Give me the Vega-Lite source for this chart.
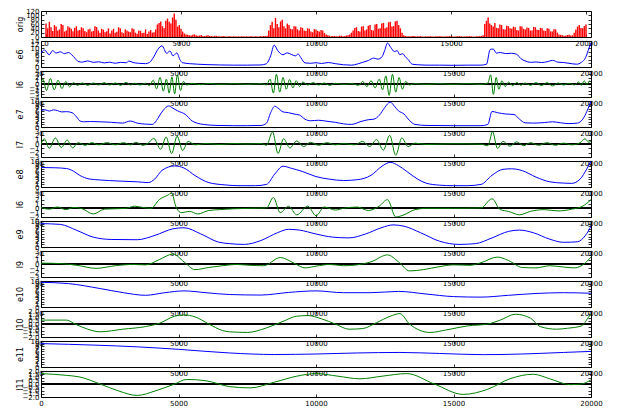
{
"$schema":"https://vega.github.io/schema/vega-lite/v6.json",
"padding":{"left":15,"top":6,"right":0,"bottom":0},
"bounds":"flush",
"spacing":4,
"config":{
 "view":{"stroke":"#000","strokeWidth":1,"fill":null},
 "axis":{"labelFont":"DejaVu Sans","labelFontSize":7,"labelColor":"#000","tickColor":"#000","tickWidth":0.8,"domain":false,"grid":false,"titleFont":"DejaVu Sans","titleFontSize":8,"titleFontWeight":"normal","titleColor":"#000","labelOverlap":false,"labelFlush":false,"labelBound":false}
},
"datasets":{
"orig":[{"x":0,"y":62},{"x":62.5,"y":40},{"x":125,"y":70},{"x":187.5,"y":45},{"x":250,"y":28},{"x":312.5,"y":55},{"x":375,"y":48},{"x":437.5,"y":30},{"x":500,"y":35},{"x":562.5,"y":60},{"x":625,"y":55},{"x":687.5,"y":25},{"x":750,"y":30},{"x":812.5,"y":50},{"x":875,"y":44},{"x":937.5,"y":38},{"x":1000,"y":26},{"x":1062.5,"y":42},{"x":1125,"y":50},{"x":1187.5,"y":30},{"x":1250,"y":32},{"x":1312.5,"y":45},{"x":1375,"y":40},{"x":1437.5,"y":28},{"x":1500,"y":22},{"x":1562.5,"y":35},{"x":1625,"y":38},{"x":1687.5,"y":25},{"x":1750,"y":28},{"x":1812.5,"y":50},{"x":1875,"y":46},{"x":1937.5,"y":30},{"x":2000,"y":20},{"x":2062.5,"y":38},{"x":2125,"y":34},{"x":2187.5,"y":22},{"x":2250,"y":27},{"x":2312.5,"y":40},{"x":2375,"y":16},{"x":2437.5,"y":30},{"x":2500,"y":38},{"x":2562.5,"y":20},{"x":2625,"y":24},{"x":2687.5,"y":45},{"x":2750,"y":40},{"x":2812.5,"y":22},{"x":2875,"y":18},{"x":2937.5,"y":35},{"x":3000,"y":30},{"x":3062.5,"y":25},{"x":3125,"y":22},{"x":3187.5,"y":40},{"x":3250,"y":36},{"x":3312.5,"y":20},{"x":3375,"y":15},{"x":3437.5,"y":30},{"x":3500,"y":28},{"x":3562.5,"y":18},{"x":3625,"y":20},{"x":3687.5,"y":35},{"x":3750,"y":14},{"x":3812.5,"y":25},{"x":3875,"y":32},{"x":3937.5,"y":20},{"x":4000,"y":22},{"x":4062.5,"y":35},{"x":4125,"y":58},{"x":4187.5,"y":65},{"x":4250,"y":72},{"x":4312.5,"y":50},{"x":4375,"y":40},{"x":4437.5,"y":75},{"x":4500,"y":85},{"x":4562.5,"y":70},{"x":4625,"y":62},{"x":4687.5,"y":90},{"x":4750,"y":108},{"x":4812.5,"y":80},{"x":4875,"y":48},{"x":4937.5,"y":55},{"x":5000,"y":38},{"x":5062.5,"y":25},{"x":5125,"y":16},{"x":5187.5,"y":12},{"x":5250,"y":10},{"x":5312.5,"y":8},{"x":5375,"y":7},{"x":5437.5,"y":10},{"x":5500,"y":12},{"x":5562.5,"y":8},{"x":5625,"y":6},{"x":5687.5,"y":7},{"x":5750,"y":9},{"x":5812.5,"y":5},{"x":5875,"y":4},{"x":5937.5,"y":6},{"x":6000,"y":8},{"x":6062.5,"y":5},{"x":6125,"y":4},{"x":6187.5,"y":3},{"x":6250,"y":6},{"x":6312.5,"y":5},{"x":6375,"y":4},{"x":6437.5,"y":3},{"x":6500,"y":3},{"x":6562.5,"y":5},{"x":6625,"y":3},{"x":6687.5,"y":2},{"x":6750,"y":4},{"x":6812.5,"y":3},{"x":6875,"y":2},{"x":6937.5,"y":3},{"x":7000,"y":4},{"x":7062.5,"y":2},{"x":7125,"y":3},{"x":7187.5,"y":2},{"x":7250,"y":4},{"x":7312.5,"y":3},{"x":7375,"y":2},{"x":7437.5,"y":3},{"x":7500,"y":2},{"x":7562.5,"y":3},{"x":7625,"y":4},{"x":7687.5,"y":2},{"x":7750,"y":3},{"x":7812.5,"y":3},{"x":7875,"y":2},{"x":7937.5,"y":4},{"x":8000,"y":3},{"x":8062.5,"y":5},{"x":8125,"y":4},{"x":8187.5,"y":6},{"x":8250,"y":30},{"x":8312.5,"y":55},{"x":8375,"y":70},{"x":8437.5,"y":40},{"x":8500,"y":88},{"x":8562.5,"y":60},{"x":8625,"y":45},{"x":8687.5,"y":72},{"x":8750,"y":80},{"x":8812.5,"y":50},{"x":8875,"y":40},{"x":8937.5,"y":62},{"x":9000,"y":55},{"x":9062.5,"y":38},{"x":9125,"y":35},{"x":9187.5,"y":50},{"x":9250,"y":48},{"x":9312.5,"y":36},{"x":9375,"y":30},{"x":9437.5,"y":45},{"x":9500,"y":42},{"x":9562.5,"y":30},{"x":9625,"y":28},{"x":9687.5,"y":40},{"x":9750,"y":38},{"x":9812.5,"y":25},{"x":9875,"y":22},{"x":9937.5,"y":36},{"x":10000,"y":35},{"x":10062.5,"y":28},{"x":10125,"y":25},{"x":10187.5,"y":32},{"x":10250,"y":30},{"x":10312.5,"y":18},{"x":10375,"y":12},{"x":10437.5,"y":8},{"x":10500,"y":6},{"x":10562.5,"y":4},{"x":10625,"y":5},{"x":10687.5,"y":5},{"x":10750,"y":3},{"x":10812.5,"y":3},{"x":10875,"y":6},{"x":10937.5,"y":6},{"x":11000,"y":4},{"x":11062.5,"y":4},{"x":11125,"y":7},{"x":11187.5,"y":8},{"x":11250,"y":12},{"x":11312.5,"y":20},{"x":11375,"y":30},{"x":11437.5,"y":42},{"x":11500,"y":45},{"x":11562.5,"y":28},{"x":11625,"y":25},{"x":11687.5,"y":48},{"x":11750,"y":50},{"x":11812.5,"y":30},{"x":11875,"y":35},{"x":11937.5,"y":52},{"x":12000,"y":55},{"x":12062.5,"y":32},{"x":12125,"y":30},{"x":12187.5,"y":58},{"x":12250,"y":60},{"x":12312.5,"y":38},{"x":12375,"y":40},{"x":12437.5,"y":62},{"x":12500,"y":65},{"x":12562.5,"y":40},{"x":12625,"y":45},{"x":12687.5,"y":68},{"x":12750,"y":70},{"x":12812.5,"y":48},{"x":12875,"y":50},{"x":12937.5,"y":72},{"x":13000,"y":75},{"x":13062.5,"y":55},{"x":13125,"y":40},{"x":13187.5,"y":20},{"x":13250,"y":8},{"x":13312.5,"y":5},{"x":13375,"y":4},{"x":13437.5,"y":3},{"x":13500,"y":3},{"x":13562.5,"y":5},{"x":13625,"y":5},{"x":13687.5,"y":3},{"x":13750,"y":3},{"x":13812.5,"y":4},{"x":13875,"y":4},{"x":13937.5,"y":2},{"x":14000,"y":2},{"x":14062.5,"y":3},{"x":14125,"y":3},{"x":14187.5,"y":4},{"x":14250,"y":4},{"x":14312.5,"y":2},{"x":14375,"y":2},{"x":14437.5,"y":3},{"x":14500,"y":3},{"x":14562.5,"y":4},{"x":14625,"y":4},{"x":14687.5,"y":2},{"x":14750,"y":2},{"x":14812.5,"y":3},{"x":14875,"y":3},{"x":14937.5,"y":4},{"x":15000,"y":4},{"x":15062.5,"y":2},{"x":15125,"y":2},{"x":15187.5,"y":3},{"x":15250,"y":3},{"x":15312.5,"y":4},{"x":15375,"y":4},{"x":15437.5,"y":2},{"x":15500,"y":2},{"x":15562.5,"y":3},{"x":15625,"y":3},{"x":15687.5,"y":4},{"x":15750,"y":4},{"x":15812.5,"y":2},{"x":15875,"y":2},{"x":15937.5,"y":3},{"x":16000,"y":3},{"x":16062.5,"y":4},{"x":16125,"y":5},{"x":16187.5,"y":8},{"x":16250,"y":60},{"x":16312.5,"y":75},{"x":16375,"y":90},{"x":16437.5,"y":62},{"x":16500,"y":55},{"x":16562.5,"y":48},{"x":16625,"y":65},{"x":16687.5,"y":42},{"x":16750,"y":40},{"x":16812.5,"y":58},{"x":16875,"y":55},{"x":16937.5,"y":36},{"x":17000,"y":35},{"x":17062.5,"y":52},{"x":17125,"y":50},{"x":17187.5,"y":40},{"x":17250,"y":38},{"x":17312.5,"y":48},{"x":17375,"y":45},{"x":17437.5,"y":32},{"x":17500,"y":30},{"x":17562.5,"y":50},{"x":17625,"y":48},{"x":17687.5,"y":38},{"x":17750,"y":35},{"x":17812.5,"y":44},{"x":17875,"y":42},{"x":17937.5,"y":30},{"x":18000,"y":30},{"x":18062.5,"y":46},{"x":18125,"y":45},{"x":18187.5,"y":34},{"x":18250,"y":32},{"x":18312.5,"y":42},{"x":18375,"y":40},{"x":18437.5,"y":30},{"x":18500,"y":28},{"x":18562.5,"y":40},{"x":18625,"y":38},{"x":18687.5,"y":26},{"x":18750,"y":25},{"x":18812.5,"y":36},{"x":18875,"y":35},{"x":18937.5,"y":20},{"x":19000,"y":12},{"x":19062.5,"y":10},{"x":19125,"y":8},{"x":19187.5,"y":6},{"x":19250,"y":6},{"x":19312.5,"y":9},{"x":19375,"y":10},{"x":19437.5,"y":7},{"x":19500,"y":8},{"x":19562.5,"y":20},{"x":19625,"y":35},{"x":19687.5,"y":48},{"x":19750,"y":55},{"x":19812.5,"y":42},{"x":19875,"y":40},{"x":19937.5,"y":50},{"x":20000,"y":58}],
"e6":[{"x":0,"y":7.4},{"x":120,"y":9.2},{"x":300,"y":6.6},{"x":420,"y":8.8},{"x":550,"y":7.5},{"x":700,"y":8.2},{"x":850,"y":7.2},{"x":1000,"y":7.8},{"x":1100,"y":6.8},{"x":1250,"y":4.5},{"x":1350,"y":3.0},{"x":1500,"y":2.6},{"x":1700,"y":3.3},{"x":1900,"y":2.5},{"x":2100,"y":2.8},{"x":2300,"y":2.2},{"x":2500,"y":2.6},{"x":2700,"y":2.0},{"x":2900,"y":2.5},{"x":3100,"y":2.3},{"x":3200,"y":3.2},{"x":3350,"y":2.4},{"x":3550,"y":2.0},{"x":3800,"y":1.8},{"x":3950,"y":2.5},{"x":4100,"y":5.5},{"x":4250,"y":9.5},{"x":4400,"y":11.4},{"x":4570,"y":7.4},{"x":4690,"y":8.6},{"x":4800,"y":6.0},{"x":4940,"y":7.6},{"x":5050,"y":4.0},{"x":5150,"y":2.3},{"x":5400,"y":1.8},{"x":5700,"y":1.5},{"x":6000,"y":1.3},{"x":6500,"y":1.1},{"x":7000,"y":1.0},{"x":7500,"y":1.0},{"x":8000,"y":1.1},{"x":8200,"y":1.8},{"x":8350,"y":6},{"x":8480,"y":11.8},{"x":8600,"y":9},{"x":8800,"y":6.6},{"x":8950,"y":7.6},{"x":9100,"y":6.8},{"x":9250,"y":6.0},{"x":9350,"y":7.0},{"x":9450,"y":5},{"x":9600,"y":2.2},{"x":9800,"y":2.0},{"x":10000,"y":2.3},{"x":10200,"y":1.9},{"x":10450,"y":2.4},{"x":10700,"y":1.8},{"x":11000,"y":1.2},{"x":11300,"y":1.0},{"x":11500,"y":1.6},{"x":11700,"y":2.5},{"x":11900,"y":3.5},{"x":12100,"y":4.8},{"x":12250,"y":4.2},{"x":12400,"y":5.5},{"x":12500,"y":9},{"x":12600,"y":12.9},{"x":12720,"y":10.5},{"x":12850,"y":8.3},{"x":12950,"y":8.8},{"x":13050,"y":6.6},{"x":13150,"y":7.2},{"x":13250,"y":5.5},{"x":13350,"y":4},{"x":13500,"y":1.5},{"x":13700,"y":1.2},{"x":14000,"y":1.0},{"x":14500,"y":1.0},{"x":15000,"y":0.9},{"x":15500,"y":1.0},{"x":16000,"y":1.0},{"x":16200,"y":1.5},{"x":16330,"y":9.3},{"x":16440,"y":9.7},{"x":16560,"y":7.5},{"x":16700,"y":7.8},{"x":16900,"y":7.2},{"x":17100,"y":7.4},{"x":17300,"y":6.8},{"x":17450,"y":4.5},{"x":17600,"y":3.3},{"x":17800,"y":2.5},{"x":18000,"y":2.7},{"x":18200,"y":2.4},{"x":18400,"y":2.8},{"x":18600,"y":3.6},{"x":18800,"y":2.6},{"x":19000,"y":2.4},{"x":19200,"y":2.0},{"x":19480,"y":1.5},{"x":19650,"y":2.5},{"x":19800,"y":5},{"x":19900,"y":9},{"x":20000,"y":13}],
"l6":[{"x":0,"y":0.2},{"x":70,"y":1.5},{"x":200,"y":-2.0},{"x":340,"y":1.7},{"x":480,"y":-1.8},{"x":620,"y":1.2},{"x":760,"y":-1.4},{"x":900,"y":0.8},{"x":1040,"y":-0.9},{"x":1180,"y":0.4},{"x":1320,"y":-0.4},{"x":1500,"y":0.3},{"x":1700,"y":-0.4},{"x":1900,"y":0.3},{"x":2100,"y":-0.3},{"x":2300,"y":0.4},{"x":2500,"y":-0.3},{"x":2700,"y":0.3},{"x":2900,"y":-0.4},{"x":3100,"y":0.5},{"x":3250,"y":-0.3},{"x":3400,"y":0.2},{"x":3600,"y":-0.3},{"x":3800,"y":0.2},{"x":3950,"y":-0.5},{"x":4080,"y":1.2},{"x":4200,"y":-1.5},{"x":4330,"y":2.0},{"x":4450,"y":-2.2},{"x":4560,"y":1.5},{"x":4660,"y":-2.8},{"x":4760,"y":2.2},{"x":4860,"y":-3.0},{"x":4960,"y":2.8},{"x":5070,"y":-2.0},{"x":5180,"y":0.8},{"x":5300,"y":-0.3},{"x":5500,"y":0.2},{"x":5800,"y":-0.2},{"x":6100,"y":0.15},{"x":6500,"y":-0.1},{"x":7000,"y":0.1},{"x":7500,"y":-0.1},{"x":8000,"y":0.1},{"x":8200,"y":-0.3},{"x":8330,"y":1.5},{"x":8450,"y":-2.8},{"x":8560,"y":3.0},{"x":8680,"y":-2.5},{"x":8800,"y":2.0},{"x":8920,"y":-1.6},{"x":9040,"y":1.4},{"x":9160,"y":-1.2},{"x":9280,"y":1.0},{"x":9400,"y":-0.8},{"x":9520,"y":0.6},{"x":9700,"y":-0.3},{"x":9900,"y":0.4},{"x":10100,"y":-0.3},{"x":10300,"y":0.3},{"x":10500,"y":-0.4},{"x":10700,"y":0.2},{"x":11000,"y":-0.1},{"x":11300,"y":0.1},{"x":11550,"y":-0.4},{"x":11700,"y":0.8},{"x":11850,"y":-0.8},{"x":12000,"y":1.0},{"x":12150,"y":-1.2},{"x":12300,"y":1.5},{"x":12420,"y":-1.8},{"x":12540,"y":2.5},{"x":12660,"y":-3.5},{"x":12780,"y":3.0},{"x":12900,"y":-2.5},{"x":13020,"y":2.0},{"x":13140,"y":-1.6},{"x":13260,"y":0.8},{"x":13400,"y":-0.3},{"x":13600,"y":0.1},{"x":14000,"y":-0.1},{"x":14500,"y":0.1},{"x":15000,"y":-0.1},{"x":15500,"y":0.1},{"x":16000,"y":-0.1},{"x":16250,"y":0.3},{"x":16350,"y":2.8},{"x":16450,"y":-3.2},{"x":16550,"y":2.0},{"x":16650,"y":-1.6},{"x":16760,"y":1.0},{"x":16880,"y":-0.8},{"x":17000,"y":0.6},{"x":17150,"y":-0.5},{"x":17300,"y":0.5},{"x":17450,"y":-0.4},{"x":17600,"y":0.3},{"x":17800,"y":-0.4},{"x":18000,"y":0.4},{"x":18200,"y":-0.5},{"x":18400,"y":0.4},{"x":18600,"y":-0.6},{"x":18800,"y":0.3},{"x":19000,"y":-0.3},{"x":19200,"y":0.2},{"x":19400,"y":-0.3},{"x":19550,"y":0.6},{"x":19650,"y":-0.4},{"x":19750,"y":1.0},{"x":19850,"y":-0.2},{"x":19950,"y":0.9},{"x":20000,"y":0.5}],
"e7":[{"x":0,"y":6.4},{"x":150,"y":6.6},{"x":300,"y":6.1},{"x":450,"y":6.6},{"x":600,"y":6.3},{"x":750,"y":5.8},{"x":930,"y":5.9},{"x":1130,"y":5.5},{"x":1300,"y":3.8},{"x":1420,"y":2.3},{"x":1550,"y":2.0},{"x":1800,"y":2.1},{"x":2150,"y":2.0},{"x":2570,"y":1.8},{"x":2970,"y":1.5},{"x":3240,"y":2.3},{"x":3500,"y":1.5},{"x":3800,"y":1.1},{"x":4050,"y":1.0},{"x":4200,"y":2.5},{"x":4300,"y":4.2},{"x":4450,"y":6.5},{"x":4640,"y":8.1},{"x":4800,"y":7.2},{"x":4970,"y":6.2},{"x":5240,"y":4.9},{"x":5500,"y":2.3},{"x":5900,"y":1.0},{"x":6400,"y":0.6},{"x":7000,"y":0.5},{"x":7500,"y":0.5},{"x":8000,"y":0.6},{"x":8200,"y":1.5},{"x":8350,"y":5.5},{"x":8500,"y":8.0},{"x":8650,"y":7.0},{"x":8800,"y":5.8},{"x":9000,"y":5.5},{"x":9200,"y":5.0},{"x":9400,"y":4.6},{"x":9600,"y":3.0},{"x":9800,"y":2.4},{"x":10100,"y":2.6},{"x":10400,"y":2.2},{"x":10700,"y":1.8},{"x":11000,"y":1.2},{"x":11300,"y":1.0},{"x":11600,"y":2.0},{"x":11900,"y":2.8},{"x":12100,"y":3.0},{"x":12300,"y":4.5},{"x":12500,"y":7.5},{"x":12700,"y":9.6},{"x":12850,"y":8.0},{"x":13000,"y":6.2},{"x":13200,"y":5.0},{"x":13400,"y":2.5},{"x":13600,"y":1.0},{"x":14000,"y":0.6},{"x":15000,"y":0.5},{"x":16000,"y":0.5},{"x":16250,"y":1.0},{"x":16400,"y":6.0},{"x":16600,"y":5.5},{"x":16900,"y":5.0},{"x":17200,"y":4.8},{"x":17400,"y":3.0},{"x":17600,"y":1.6},{"x":17900,"y":1.5},{"x":18300,"y":1.7},{"x":18600,"y":2.0},{"x":18900,"y":1.6},{"x":19200,"y":1.3},{"x":19500,"y":1.5},{"x":19700,"y":3.0},{"x":19850,"y":6.0},{"x":20000,"y":10}],
"l7":[{"x":0,"y":0},{"x":120,"y":1.2},{"x":300,"y":-1.0},{"x":520,"y":1.4},{"x":740,"y":-0.8},{"x":950,"y":0.9},{"x":1150,"y":-0.9},{"x":1350,"y":0.3},{"x":1600,"y":-0.3},{"x":1850,"y":0.3},{"x":2100,"y":-0.2},{"x":2400,"y":0.3},{"x":2700,"y":-0.2},{"x":3000,"y":0.3},{"x":3250,"y":-0.2},{"x":3450,"y":0.4},{"x":3700,"y":-0.3},{"x":3900,"y":0.2},{"x":4100,"y":1.3},{"x":4350,"y":-1.2},{"x":4550,"y":1.6},{"x":4750,"y":-2.2},{"x":4950,"y":1.8},{"x":5150,"y":-1.5},{"x":5350,"y":0.6},{"x":5600,"y":-0.2},{"x":6000,"y":0.1},{"x":6500,"y":-0.1},{"x":7000,"y":0.1},{"x":7500,"y":0},{"x":8000,"y":0.1},{"x":8200,"y":-0.3},{"x":8420,"y":2.8},{"x":8620,"y":-2.2},{"x":8820,"y":1.2},{"x":9050,"y":-0.9},{"x":9300,"y":0.7},{"x":9550,"y":-0.6},{"x":9800,"y":0.4},{"x":10100,"y":-0.3},{"x":10400,"y":0.3},{"x":10700,"y":-0.2},{"x":11000,"y":0.1},{"x":11400,"y":-0.2},{"x":11700,"y":0.6},{"x":11950,"y":-0.6},{"x":12200,"y":1.0},{"x":12450,"y":-1.4},{"x":12680,"y":2.0},{"x":12900,"y":-2.6},{"x":13120,"y":1.4},{"x":13350,"y":-0.6},{"x":13600,"y":0.2},{"x":14000,"y":-0.1},{"x":15000,"y":0.05},{"x":16000,"y":-0.05},{"x":16250,"y":-0.4},{"x":16420,"y":2.8},{"x":16600,"y":-1.0},{"x":16800,"y":0.6},{"x":17050,"y":-0.5},{"x":17300,"y":0.5},{"x":17550,"y":-0.4},{"x":17800,"y":0.3},{"x":18100,"y":-0.3},{"x":18400,"y":0.3},{"x":18700,"y":-0.3},{"x":19000,"y":0.2},{"x":19300,"y":-0.2},{"x":19600,"y":0.3},{"x":19780,"y":1.2},{"x":19920,"y":0.4},{"x":20000,"y":0.6}],
"e8":[{"x":0,"y":7.5},{"x":500,"y":7.4},{"x":930,"y":7.1},{"x":1180,"y":6.1},{"x":1420,"y":4.4},{"x":1750,"y":3.1},{"x":2150,"y":2.7},{"x":2820,"y":2.3},{"x":3500,"y":2.0},{"x":3900,"y":1.7},{"x":4140,"y":3.1},{"x":4400,"y":6.4},{"x":4860,"y":8.1},{"x":5200,"y":7.3},{"x":5600,"y":4.4},{"x":6100,"y":1.7},{"x":6700,"y":0.8},{"x":7200,"y":0.5},{"x":7800,"y":0.5},{"x":8200,"y":1.0},{"x":8500,"y":5.0},{"x":8800,"y":8.0},{"x":9100,"y":7.2},{"x":9500,"y":6.0},{"x":10000,"y":4.0},{"x":10500,"y":3.0},{"x":11000,"y":2.5},{"x":11500,"y":2.8},{"x":12000,"y":4.5},{"x":12400,"y":8.0},{"x":12700,"y":9.5},{"x":13000,"y":8.2},{"x":13300,"y":6.0},{"x":13700,"y":3.0},{"x":14000,"y":1.5},{"x":14500,"y":0.7},{"x":15000,"y":0.5},{"x":15500,"y":0.5},{"x":16000,"y":1.0},{"x":16400,"y":4.5},{"x":16800,"y":6.8},{"x":17100,"y":7.0},{"x":17500,"y":6.3},{"x":18000,"y":3.8},{"x":18500,"y":2.0},{"x":19000,"y":1.5},{"x":19300,"y":1.4},{"x":19600,"y":3.0},{"x":19850,"y":7.0},{"x":20000,"y":10}],
"l8":[{"x":0,"y":0.2},{"x":300,"y":-0.2},{"x":600,"y":0.3},{"x":900,"y":-0.3},{"x":1200,"y":0.2},{"x":1500,"y":-0.1},{"x":1900,"y":-1.3},{"x":2300,"y":-0.2},{"x":2700,"y":-0.1},{"x":3100,"y":0},{"x":3400,"y":0.5},{"x":3700,"y":0.2},{"x":4000,"y":0},{"x":4300,"y":2.0},{"x":4600,"y":3.0},{"x":4750,"y":3.5},{"x":4900,"y":0.5},{"x":5100,"y":-1.0},{"x":5400,"y":-0.7},{"x":5700,"y":-1.3},{"x":6100,"y":-0.5},{"x":6500,"y":-0.3},{"x":7000,"y":-0.1},{"x":7600,"y":0},{"x":8200,"y":0.1},{"x":8450,"y":2.5},{"x":8700,"y":-1.0},{"x":9000,"y":0.5},{"x":9300,"y":-1.5},{"x":9700,"y":0.5},{"x":10000,"y":-1.7},{"x":10300,"y":0.3},{"x":10700,"y":-0.4},{"x":11000,"y":0},{"x":11500,"y":0.3},{"x":11900,"y":-0.5},{"x":12300,"y":0.5},{"x":12600,"y":2.0},{"x":12900,"y":-2.0},{"x":13200,"y":-1.5},{"x":13600,"y":-0.3},{"x":14000,"y":0},{"x":15000,"y":0},{"x":16000,"y":0.1},{"x":16400,"y":2.2},{"x":16700,"y":-0.3},{"x":17000,"y":-0.7},{"x":17400,"y":-1.5},{"x":17800,"y":-0.7},{"x":18300,"y":-0.3},{"x":18800,"y":-0.6},{"x":19300,"y":-0.2},{"x":19700,"y":0.5},{"x":20000,"y":2.0}],
"e9":[{"x":0,"y":9},{"x":700,"y":8.7},{"x":1300,"y":6.4},{"x":1900,"y":3.8},{"x":2550,"y":2.9},{"x":3500,"y":2.8},{"x":4150,"y":4.5},{"x":4800,"y":7},{"x":5200,"y":7.4},{"x":5800,"y":5.1},{"x":6450,"y":1.9},{"x":6850,"y":1.3},{"x":7400,"y":1.0},{"x":8000,"y":2.5},{"x":8600,"y":5.5},{"x":9000,"y":6.8},{"x":9400,"y":6.5},{"x":10000,"y":5.0},{"x":10600,"y":3.8},{"x":11200,"y":3.5},{"x":11800,"y":5},{"x":12400,"y":7.5},{"x":12800,"y":8.5},{"x":13200,"y":8.0},{"x":13800,"y":5.5},{"x":14500,"y":2.2},{"x":15200,"y":1.0},{"x":15800,"y":1.3},{"x":16400,"y":3.5},{"x":17000,"y":6.0},{"x":17400,"y":6.5},{"x":17900,"y":5.5},{"x":18500,"y":3.0},{"x":19000,"y":1.8},{"x":19500,"y":2.0},{"x":19800,"y":4.5},{"x":20000,"y":8}],
"l9":[{"x":0,"y":0.2},{"x":700,"y":0.1},{"x":1300,"y":-0.3},{"x":2000,"y":-1.0},{"x":2700,"y":-0.4},{"x":3300,"y":-0.1},{"x":3800,"y":-0.2},{"x":4300,"y":1.0},{"x":4800,"y":2.3},{"x":5200,"y":0.5},{"x":5600,"y":-1.3},{"x":6100,"y":-0.8},{"x":6600,"y":-0.4},{"x":7100,"y":-0.1},{"x":7600,"y":-0.3},{"x":8100,"y":-0.4},{"x":8700,"y":1.5},{"x":9200,"y":0.2},{"x":9600,"y":-0.9},{"x":10000,"y":-0.5},{"x":10500,"y":-0.1},{"x":11000,"y":-0.4},{"x":11500,"y":-0.2},{"x":12000,"y":0.5},{"x":12600,"y":2.1},{"x":13000,"y":0.5},{"x":13400,"y":-1.6},{"x":13900,"y":-1.3},{"x":14500,"y":-0.6},{"x":15000,"y":-0.2},{"x":15600,"y":-0.3},{"x":16000,"y":0.3},{"x":16600,"y":1.6},{"x":17000,"y":0.8},{"x":17500,"y":-0.8},{"x":18000,"y":-0.9},{"x":18500,"y":-0.4},{"x":19000,"y":-0.7},{"x":19400,"y":-0.9},{"x":19800,"y":0.3},{"x":20000,"y":1.6}],
"e10":[{"x":0,"y":9.5},{"x":1000,"y":9.0},{"x":2150,"y":7.1},{"x":3000,"y":5.5},{"x":3800,"y":4.5},{"x":4500,"y":5.5},{"x":5200,"y":6.2},{"x":6000,"y":5.5},{"x":6850,"y":4.8},{"x":8000,"y":4.6},{"x":9000,"y":5.6},{"x":10000,"y":6.2},{"x":11000,"y":5.5},{"x":12000,"y":5.5},{"x":13000,"y":6.0},{"x":14000,"y":5.0},{"x":15000,"y":4.0},{"x":16000,"y":3.8},{"x":17000,"y":4.5},{"x":18000,"y":5.2},{"x":19000,"y":5.5},{"x":20000,"y":5.3}],
"l10":[{"x":0,"y":0.6},{"x":930,"y":0.6},{"x":1240,"y":0},{"x":1700,"y":-0.8},{"x":2150,"y":-1.2},{"x":2970,"y":-0.8},{"x":3800,"y":-0.4},{"x":4300,"y":0.1},{"x":4860,"y":1.2},{"x":5200,"y":1.4},{"x":5600,"y":1.1},{"x":6100,"y":0},{"x":6600,"y":-1.0},{"x":6850,"y":-1.2},{"x":7500,"y":-1.3},{"x":8200,"y":-0.6},{"x":8800,"y":0.4},{"x":9300,"y":1.2},{"x":9700,"y":1.3},{"x":10200,"y":0.8},{"x":10700,"y":0},{"x":11200,"y":-0.8},{"x":11700,"y":-0.7},{"x":12200,"y":0.2},{"x":12700,"y":1.2},{"x":13050,"y":1.6},{"x":13400,"y":0},{"x":14150,"y":-1.3},{"x":14750,"y":-0.9},{"x":15500,"y":-0.3},{"x":16250,"y":0},{"x":16700,"y":0.6},{"x":17250,"y":1.5},{"x":17800,"y":0.9},{"x":18150,"y":-0.4},{"x":18750,"y":-0.8},{"x":19150,"y":-0.65},{"x":19650,"y":-0.3},{"x":19900,"y":1.0},{"x":20000,"y":1.6}],
"e11":[{"x":0,"y":9},{"x":2000,"y":8.4},{"x":3500,"y":7.75},{"x":5000,"y":6.8},{"x":6850,"y":5.4},{"x":8500,"y":4.8},{"x":10000,"y":5.0},{"x":11500,"y":5.4},{"x":13050,"y":5.6},{"x":14500,"y":5.2},{"x":16100,"y":4.75},{"x":17500,"y":5.0},{"x":19000,"y":5.6},{"x":20000,"y":6.0}],
"l11":[{"x":0,"y":1.6},{"x":930,"y":1.33},{"x":1420,"y":1.07},{"x":2150,"y":0},{"x":2820,"y":-1.07},{"x":3500,"y":-1.76},{"x":4150,"y":-1.07},{"x":4860,"y":0},{"x":5300,"y":0.7},{"x":6000,"y":0.5},{"x":6850,"y":-0.4},{"x":7600,"y":-0.6},{"x":8500,"y":0.3},{"x":9300,"y":1.2},{"x":10000,"y":1.6},{"x":10800,"y":1.2},{"x":11600,"y":0.8},{"x":12400,"y":1.2},{"x":13300,"y":1.6},{"x":14300,"y":0},{"x":15350,"y":-1.6},{"x":16250,"y":-0.8},{"x":17050,"y":0.8},{"x":17900,"y":1.5},{"x":18500,"y":0.8},{"x":19250,"y":-0.1},{"x":19650,"y":0},{"x":20000,"y":0.64}]
},
"vconcat":[
{"width":550,"height":26,"data":{"name":"orig"},"layer":[
 {"mark":{"type":"bar","color":"#ff0000","size":1.4,"clip":true},"encoding":{
  "x":{"field":"x","type":"quantitative","scale":{"domain":[0,20000],"nice":false},"axis":{"orient":"bottom","values":[0,5000,10000,15000,20000],"format":"d","title":null,"tickSize":-3,"labelPadding":5}},
  "y":{"field":"y","type":"quantitative","scale":{"domain":[0,120],"nice":false},"axis":{"orient":"left","values":[0,20,40,60,80,100,120],"title":"orig","titleX":-17,"tickSize":-3,"labelPadding":5}}}},
 {"mark":{"type":"line","opacity":0},"encoding":{
  "x":{"field":"x","type":"quantitative","axis":{"orient":"top","values":[0,5000,10000,15000,20000],"labels":false,"title":null,"tickSize":-3}},
  "y":{"field":"y","type":"quantitative","axis":{"orient":"right","values":[0,20,40,60,80,100,120],"labels":false,"title":null,"tickSize":-3}}}}
]},
{"width":550,"height":26,"data":{"name":"e6"},"layer":[
 {"mark":{"type":"line","color":"#0000ff","strokeWidth":1,"interpolate":"monotone","clip":true},"encoding":{
  "x":{"field":"x","type":"quantitative","scale":{"domain":[0,20000],"nice":false},"axis":{"orient":"bottom","values":[0,5000,10000,15000,20000],"format":"d","title":null,"tickSize":-3,"labelPadding":5}},
  "y":{"field":"y","type":"quantitative","scale":{"domain":[0,14],"nice":false},"axis":{"orient":"left","values":[0,2,4,6,8,10,12,14],"title":"e6","titleX":-17,"tickSize":-3,"labelPadding":5}}}},
 {"mark":{"type":"line","opacity":0},"encoding":{
  "x":{"field":"x","type":"quantitative","axis":{"orient":"top","values":[0,5000,10000,15000,20000],"labels":false,"title":null,"tickSize":-3}},
  "y":{"field":"y","type":"quantitative","axis":{"orient":"right","values":[0,2,4,6,8,10,12,14],"labels":false,"title":null,"tickSize":-3}}}}
]},
{"width":550,"height":26,"data":{"name":"l6"},"layer":[
 {"mark":{"type":"rule","color":"#000","strokeWidth":0.8},"encoding":{"y":{"datum":0,"type":"quantitative","axis":null}}},
 {"mark":{"type":"line","color":"#008000","strokeWidth":1,"interpolate":"monotone","clip":true},"encoding":{
  "x":{"field":"x","type":"quantitative","scale":{"domain":[0,20000],"nice":false},"axis":{"orient":"bottom","values":[0,5000,10000,15000,20000],"format":"d","title":null,"tickSize":-3,"labelPadding":5}},
  "y":{"field":"y","type":"quantitative","scale":{"domain":[-4,4],"nice":false},"axis":{"orient":"left","values":[-4,-3,-2,-1,0,1,2,3,4],"title":"l6","titleX":-17,"tickSize":-3,"labelPadding":5}}}},
 {"mark":{"type":"line","opacity":0},"encoding":{
  "x":{"field":"x","type":"quantitative","axis":{"orient":"top","values":[0,5000,10000,15000,20000],"labels":false,"title":null,"tickSize":-3}},
  "y":{"field":"y","type":"quantitative","axis":{"orient":"right","values":[-4,-3,-2,-1,0,1,2,3,4],"labels":false,"title":null,"tickSize":-3}}}}
]},
{"width":550,"height":26,"data":{"name":"e7"},"layer":[
 {"mark":{"type":"line","color":"#0000ff","strokeWidth":1,"interpolate":"monotone","clip":true},"encoding":{
  "x":{"field":"x","type":"quantitative","scale":{"domain":[0,20000],"nice":false},"axis":{"orient":"bottom","values":[0,5000,10000,15000,20000],"format":"d","title":null,"tickSize":-3,"labelPadding":5}},
  "y":{"field":"y","type":"quantitative","scale":{"domain":[0,10],"nice":false},"axis":{"orient":"left","values":[0,1,2,3,4,5,6,7,8,9,10],"title":"e7","titleX":-17,"tickSize":-3,"labelPadding":5}}}},
 {"mark":{"type":"line","opacity":0},"encoding":{
  "x":{"field":"x","type":"quantitative","axis":{"orient":"top","values":[0,5000,10000,15000,20000],"labels":false,"title":null,"tickSize":-3}},
  "y":{"field":"y","type":"quantitative","axis":{"orient":"right","values":[0,1,2,3,4,5,6,7,8,9,10],"labels":false,"title":null,"tickSize":-3}}}}
]},
{"width":550,"height":26,"data":{"name":"l7"},"layer":[
 {"mark":{"type":"rule","color":"#000","strokeWidth":0.8},"encoding":{"y":{"datum":0,"type":"quantitative","axis":null}}},
 {"mark":{"type":"line","color":"#008000","strokeWidth":1,"interpolate":"monotone","clip":true},"encoding":{
  "x":{"field":"x","type":"quantitative","scale":{"domain":[0,20000],"nice":false},"axis":{"orient":"bottom","values":[0,5000,10000,15000,20000],"format":"d","title":null,"tickSize":-3,"labelPadding":5}},
  "y":{"field":"y","type":"quantitative","scale":{"domain":[-3,3],"nice":false},"axis":{"orient":"left","values":[-3,-2,-1,0,1,2,3],"title":"l7","titleX":-17,"tickSize":-3,"labelPadding":5}}}},
 {"mark":{"type":"line","opacity":0},"encoding":{
  "x":{"field":"x","type":"quantitative","axis":{"orient":"top","values":[0,5000,10000,15000,20000],"labels":false,"title":null,"tickSize":-3}},
  "y":{"field":"y","type":"quantitative","axis":{"orient":"right","values":[-3,-2,-1,0,1,2,3],"labels":false,"title":null,"tickSize":-3}}}}
]},
{"width":550,"height":26,"data":{"name":"e8"},"layer":[
 {"mark":{"type":"line","color":"#0000ff","strokeWidth":1,"interpolate":"monotone","clip":true},"encoding":{
  "x":{"field":"x","type":"quantitative","scale":{"domain":[0,20000],"nice":false},"axis":{"orient":"bottom","values":[0,5000,10000,15000,20000],"format":"d","title":null,"tickSize":-3,"labelPadding":5}},
  "y":{"field":"y","type":"quantitative","scale":{"domain":[0,10],"nice":false},"axis":{"orient":"left","values":[0,1,2,3,4,5,6,7,8,9,10],"title":"e8","titleX":-17,"tickSize":-3,"labelPadding":5}}}},
 {"mark":{"type":"line","opacity":0},"encoding":{
  "x":{"field":"x","type":"quantitative","axis":{"orient":"top","values":[0,5000,10000,15000,20000],"labels":false,"title":null,"tickSize":-3}},
  "y":{"field":"y","type":"quantitative","axis":{"orient":"right","values":[0,1,2,3,4,5,6,7,8,9,10],"labels":false,"title":null,"tickSize":-3}}}}
]},
{"width":550,"height":26,"data":{"name":"l8"},"layer":[
 {"mark":{"type":"rule","color":"#000","strokeWidth":0.8},"encoding":{"y":{"datum":0,"type":"quantitative","axis":null}}},
 {"mark":{"type":"line","color":"#008000","strokeWidth":1,"interpolate":"monotone","clip":true},"encoding":{
  "x":{"field":"x","type":"quantitative","scale":{"domain":[0,20000],"nice":false},"axis":{"orient":"bottom","values":[0,5000,10000,15000,20000],"format":"d","title":null,"tickSize":-3,"labelPadding":5}},
  "y":{"field":"y","type":"quantitative","scale":{"domain":[-2,4],"nice":false},"axis":{"orient":"left","values":[-2,-1,0,1,2,3,4],"title":"l6","titleX":-17,"tickSize":-3,"labelPadding":5}}}},
 {"mark":{"type":"line","opacity":0},"encoding":{
  "x":{"field":"x","type":"quantitative","axis":{"orient":"top","values":[0,5000,10000,15000,20000],"labels":false,"title":null,"tickSize":-3}},
  "y":{"field":"y","type":"quantitative","axis":{"orient":"right","values":[-2,-1,0,1,2,3,4],"labels":false,"title":null,"tickSize":-3}}}}
]},
{"width":550,"height":26,"data":{"name":"e9"},"layer":[
 {"mark":{"type":"line","color":"#0000ff","strokeWidth":1,"interpolate":"monotone","clip":true},"encoding":{
  "x":{"field":"x","type":"quantitative","scale":{"domain":[0,20000],"nice":false},"axis":{"orient":"bottom","values":[0,5000,10000,15000,20000],"format":"d","title":null,"tickSize":-3,"labelPadding":5}},
  "y":{"field":"y","type":"quantitative","scale":{"domain":[0,10],"nice":false},"axis":{"orient":"left","values":[0,1,2,3,4,5,6,7,8,9,10],"title":"e9","titleX":-17,"tickSize":-3,"labelPadding":5}}}},
 {"mark":{"type":"line","opacity":0},"encoding":{
  "x":{"field":"x","type":"quantitative","axis":{"orient":"top","values":[0,5000,10000,15000,20000],"labels":false,"title":null,"tickSize":-3}},
  "y":{"field":"y","type":"quantitative","axis":{"orient":"right","values":[0,1,2,3,4,5,6,7,8,9,10],"labels":false,"title":null,"tickSize":-3}}}}
]},
{"width":550,"height":26,"data":{"name":"l9"},"layer":[
 {"mark":{"type":"rule","color":"#000","strokeWidth":0.8},"encoding":{"y":{"datum":0,"type":"quantitative","axis":null}}},
 {"mark":{"type":"line","color":"#008000","strokeWidth":1,"interpolate":"monotone","clip":true},"encoding":{
  "x":{"field":"x","type":"quantitative","scale":{"domain":[0,20000],"nice":false},"axis":{"orient":"bottom","values":[0,5000,10000,15000,20000],"format":"d","title":null,"tickSize":-3,"labelPadding":5}},
  "y":{"field":"y","type":"quantitative","scale":{"domain":[-3,3],"nice":false},"axis":{"orient":"left","values":[-3,-2,-1,0,1,2,3],"title":"l9","titleX":-17,"tickSize":-3,"labelPadding":5}}}},
 {"mark":{"type":"line","opacity":0},"encoding":{
  "x":{"field":"x","type":"quantitative","axis":{"orient":"top","values":[0,5000,10000,15000,20000],"labels":false,"title":null,"tickSize":-3}},
  "y":{"field":"y","type":"quantitative","axis":{"orient":"right","values":[-3,-2,-1,0,1,2,3],"labels":false,"title":null,"tickSize":-3}}}}
]},
{"width":550,"height":26,"data":{"name":"e10"},"layer":[
 {"mark":{"type":"line","color":"#0000ff","strokeWidth":1,"interpolate":"monotone","clip":true},"encoding":{
  "x":{"field":"x","type":"quantitative","scale":{"domain":[0,20000],"nice":false},"axis":{"orient":"bottom","values":[0,5000,10000,15000,20000],"format":"d","title":null,"tickSize":-3,"labelPadding":5}},
  "y":{"field":"y","type":"quantitative","scale":{"domain":[0,10],"nice":false},"axis":{"orient":"left","values":[0,1,2,3,4,5,6,7,8,9,10],"title":"e10","titleX":-17,"tickSize":-3,"labelPadding":5}}}},
 {"mark":{"type":"line","opacity":0},"encoding":{
  "x":{"field":"x","type":"quantitative","axis":{"orient":"top","values":[0,5000,10000,15000,20000],"labels":false,"title":null,"tickSize":-3}},
  "y":{"field":"y","type":"quantitative","axis":{"orient":"right","values":[0,1,2,3,4,5,6,7,8,9,10],"labels":false,"title":null,"tickSize":-3}}}}
]},
{"width":550,"height":26,"data":{"name":"l10"},"layer":[
 {"mark":{"type":"rule","color":"#000","strokeWidth":0.8},"encoding":{"y":{"datum":0,"type":"quantitative","axis":null}}},
 {"mark":{"type":"line","color":"#008000","strokeWidth":1,"interpolate":"monotone","clip":true},"encoding":{
  "x":{"field":"x","type":"quantitative","scale":{"domain":[0,20000],"nice":false},"axis":{"orient":"bottom","values":[0,5000,10000,15000,20000],"format":"d","title":null,"tickSize":-3,"labelPadding":5}},
  "y":{"field":"y","type":"quantitative","scale":{"domain":[-2,2],"nice":false},"axis":{"orient":"left","values":[-2,-1.5,-1,-0.5,0,0.5,1,1.5,2],"title":"l10","titleX":-17,"tickSize":-3,"labelPadding":5}}}},
 {"mark":{"type":"line","opacity":0},"encoding":{
  "x":{"field":"x","type":"quantitative","axis":{"orient":"top","values":[0,5000,10000,15000,20000],"labels":false,"title":null,"tickSize":-3}},
  "y":{"field":"y","type":"quantitative","axis":{"orient":"right","values":[-2,-1.5,-1,-0.5,0,0.5,1,1.5,2],"labels":false,"title":null,"tickSize":-3}}}}
]},
{"width":550,"height":26,"data":{"name":"e11"},"layer":[
 {"mark":{"type":"line","color":"#0000ff","strokeWidth":1,"interpolate":"monotone","clip":true},"encoding":{
  "x":{"field":"x","type":"quantitative","scale":{"domain":[0,20000],"nice":false},"axis":{"orient":"bottom","values":[0,5000,10000,15000,20000],"format":"d","title":null,"tickSize":-3,"labelPadding":5}},
  "y":{"field":"y","type":"quantitative","scale":{"domain":[0,10],"nice":false},"axis":{"orient":"left","values":[0,1,2,3,4,5,6,7,8,9,10],"title":"e11","titleX":-17,"tickSize":-3,"labelPadding":5}}}},
 {"mark":{"type":"line","opacity":0},"encoding":{
  "x":{"field":"x","type":"quantitative","axis":{"orient":"top","values":[0,5000,10000,15000,20000],"labels":false,"title":null,"tickSize":-3}},
  "y":{"field":"y","type":"quantitative","axis":{"orient":"right","values":[0,1,2,3,4,5,6,7,8,9,10],"labels":false,"title":null,"tickSize":-3}}}}
]},
{"width":550,"height":26,"data":{"name":"l11"},"layer":[
 {"mark":{"type":"rule","color":"#000","strokeWidth":0.8},"encoding":{"y":{"datum":0,"type":"quantitative","axis":null}}},
 {"mark":{"type":"line","color":"#008000","strokeWidth":1,"interpolate":"monotone","clip":true},"encoding":{
  "x":{"field":"x","type":"quantitative","scale":{"domain":[0,20000],"nice":false},"axis":{"orient":"bottom","values":[0,5000,10000,15000,20000],"format":"d","title":null,"tickSize":-3,"labelPadding":5}},
  "y":{"field":"y","type":"quantitative","scale":{"domain":[-2,2],"nice":false},"axis":{"orient":"left","values":[-2,-1.5,-1,-0.5,0,0.5,1,1.5,2],"title":"l11","titleX":-17,"tickSize":-3,"labelPadding":5}}}},
 {"mark":{"type":"line","opacity":0},"encoding":{
  "x":{"field":"x","type":"quantitative","axis":{"orient":"top","values":[0,5000,10000,15000,20000],"labels":false,"title":null,"tickSize":-3}},
  "y":{"field":"y","type":"quantitative","axis":{"orient":"right","values":[-2,-1.5,-1,-0.5,0,0.5,1,1.5,2],"labels":false,"title":null,"tickSize":-3}}}}
]}
]
}
